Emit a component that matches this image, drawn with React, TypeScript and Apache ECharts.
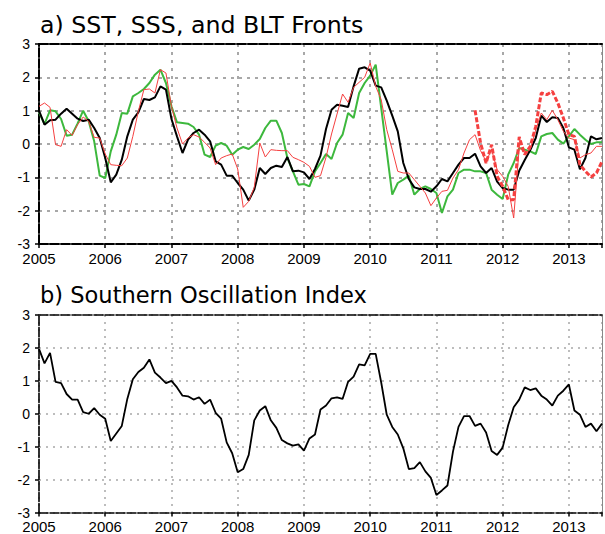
import React, { useEffect, useRef } from "react";
import * as echarts from "echarts";

// Monthly series, Jan 2005 .. Jul 2013 (103 months)
const START_YEAR = 2005;
const END_YEAR = 2013.5;

// black: SST front index
const sstFront = [
  1.0, 0.58, 0.71, 0.73, 0.91, 1.06, 0.91, 0.76, 0.69, 0.73, 0.48, 0.18,
  -0.42, -1.15, -0.92, -0.47, 0.23, 0.73, 0.95, 1.35, 1.32, 1.4, 1.73, 1.63,
  0.75, 0.23, -0.27, 0.13, 0.33, 0.43, 0.28, 0.08, -0.52, -0.62, -0.95, -0.95,
  -1.17, -1.37, -1.7, -1.37, -0.72, -0.9, -0.72, -0.65, -0.69, -0.39, -0.82, -0.8,
  -0.85, -1.05, -0.75, -0.35, 0.45, 1.03, 1.18, 1.15, 1.11, 1.73, 2.26, 2.3,
  2.2, 1.75, 1.7, 1.3, 0.85, 0.38, -0.57, -1.05, -1.3, -1.35, -1.35, -1.43,
  -1.27, -1.05, -1.12, -0.87, -0.62, -0.42, -0.42, -0.29, -0.67, -0.87, -0.72, -1.13,
  -1.32, -1.37, -1.37, -0.8, -0.48, -0.18, 0.18, 0.85, 0.66, 0.8, 0.78, 0.48,
  -0.1, -0.17, -0.76, -0.42, 0.23, 0.14, 0.18,
];

// thin red: SSS front index
const sssFront = [
  1.13, 1.23, 1.1, -0.02, -0.07, 0.43, 0.26, 0.58, 0.81, 0.68, 0.2, 0.18,
  -0.3, -0.62, -0.64, -0.65, -0.42, 0.23, 0.98, 1.63, 1.65, 1.53, 2.23, 2.13,
  1.13, 0.48, 0.0, 0.18, 0.28, 0.21, 0.05, -0.12, -0.62, -0.42, -0.35, -0.3,
  -0.75, -1.9, -1.72, -1.3, 0.03, -0.39, -0.17, -0.19, -0.2, -0.2, -0.4, -0.47,
  -0.55, -0.67, -1.0, -0.95, -0.4, 0.3, 0.9, 1.5, 1.25, 1.7, 1.85, 2.0,
  2.43, 1.73, 1.33, 0.43, -0.17, -0.82, -0.87, -0.87, -1.07, -1.27, -1.47, -1.85,
  -1.62, -1.42, -1.39, -1.02, -0.77, -0.27, 0.13, 0.28, -0.2, -0.52, -0.17, -0.77,
  -0.97, -1.27, -2.22, -0.1, -0.27, -0.17, 0.43, 0.93, 0.73, 1.01, 0.73, 0.38,
  0.18, 0.13, -0.42, -0.32, -0.27, -0.07, -0.07,
];

// green: BLT front index
const bltFront = [
  0.95, 0.6, 1.01, 0.98, 0.75, 0.25, 0.28, 0.62, 1.0, 0.68, 0.08, -0.95,
  -1.02, -0.22, 0.28, 0.93, 0.91, 1.43, 1.53, 1.65, 1.83, 2.08, 2.23, 1.83,
  1.13, 0.65, 0.63, 0.61, 0.51, 0.28, -0.32, -0.39, -0.05, 0.03, -0.05, -0.32,
  -0.17, -0.09, -0.15, -0.02, 0.15, 0.48, 0.7, 0.7, 0.33, -0.42, -0.82, -1.22,
  -1.2, -1.27, -0.82, -0.57, -0.3, -0.45, 0.03, 0.28, 0.93, 0.78, 1.53, 1.83,
  2.05, 2.38, 1.08, -0.22, -1.52, -1.17, -1.07, -0.95, -1.52, -1.35, -1.27, -1.35,
  -1.47, -2.07, -1.57, -1.37, -0.87, -0.77, -0.77, -0.82, -0.82, -0.87, -1.37, -1.52,
  -1.65, -0.92, -0.57, -0.12, -0.17, -0.22, -0.3, 0.23, 0.3, 0.33, 0.13, 0.01,
  0.23, 0.45, 0.28, 0.13, 0.0, 0.05, 0.05,
];

// thick dashed red, starting Aug 2011 (month index 79)
const dashedStartMonth = 79;
const dashedFront = [
  1.01, 0.03, -0.57, -0.02, -0.97, -1.27, -1.67, -1.67, 0.21, -0.32, -0.07, 0.53,
  1.53, 1.48, 1.58, 1.23, 0.78, 0.28, 0.23, -0.62, -0.82, -0.99, -0.87, -0.52,
];

// Southern Oscillation Index
const soi = [
  1.97, 1.53, 1.85, 0.97, 0.93, 0.6, 0.43, 0.43, 0.05, 0.0, 0.17, -0.03,
  -0.15, -0.83, -0.6, -0.37, 0.45, 1.05, 1.27, 1.4, 1.65, 1.25, 1.1, 0.93,
  1.0, 0.8, 0.55, 0.53, 0.43, 0.5, 0.3, 0.43, 0.03, -0.15, -0.87, -1.2,
  -1.78, -1.68, -1.25, -0.2, 0.1, 0.23, -0.2, -0.43, -0.8, -0.9, -0.97, -0.93,
  -1.12, -0.75, -0.63, 0.13, 0.25, 0.47, 0.5, 0.45, 0.97, 1.13, 1.5, 1.47,
  1.82, 1.82, 0.95, -0.03, -0.4, -0.63, -1.05, -1.68, -1.65, -1.47, -1.75, -1.95,
  -2.47, -2.33, -2.18, -1.15, -0.4, -0.07, -0.07, -0.37, -0.3, -0.57, -1.13, -1.25,
  -1.03, -0.35, 0.2, 0.43, 0.8, 0.72, 0.77, 0.55, 0.43, 0.25, 0.55, 0.7,
  0.89, 0.1, -0.03, -0.4, -0.3, -0.53, -0.3,
];

const titleA = "a) SST, SSS, and BLT Fronts";
const titleB = "b) Southern Oscillation Index";

const toPairs = (values: number[], startMonth = 0) =>
  values.map((v, i) => [START_YEAR + (startMonth + i) / 12, v]);

const FONT = "Liberation Sans";

function axesFor(gridIndex: number, frameW: number, gridW: number, dash: number[]) {
  const split = {
    show: true,
    lineStyle: { color: "#a8a8a8", width: gridW, type: dash },
  };
  const frame = { color: "#000", width: frameW, type: [9, 2] };
  const xAxes = [
    {
      type: "value",
      gridIndex,
      min: START_YEAR,
      max: END_YEAR,
      interval: 1,
      position: "bottom",
      axisLine: { show: true, onZero: false, lineStyle: frame },
      axisTick: { show: true, inside: false, length: 4, lineStyle: { color: "#000", width: 1.5 } },
      axisLabel: {
        formatter: (v: number) => (Number.isInteger(v) ? String(v) : ""),
        color: "#000",
        fontFamily: FONT,
        fontSize: 15,
        lineHeight: 12,
        margin: 8,
      },
      splitLine: split,
    },
    {
      type: "value",
      gridIndex,
      min: START_YEAR,
      max: END_YEAR,
      position: "top",
      axisLine: { show: true, onZero: false, lineStyle: frame },
      axisTick: { show: false },
      axisLabel: { show: false },
      splitLine: { show: false },
    },
  ];
  const yAxes = [
    {
      type: "value",
      gridIndex,
      min: -3,
      max: 3,
      interval: 1,
      position: "left",
      axisLine: { show: true, onZero: false, lineStyle: frame },
      axisTick: { show: true, inside: false, length: 4, lineStyle: { color: "#000", width: 1.5 } },
      axisLabel: { color: "#000", fontFamily: FONT, fontSize: 14, lineHeight: 12, margin: 9 },
      splitLine: split,
    },
    {
      type: "value",
      gridIndex,
      min: -3,
      max: 3,
      position: "right",
      axisLine: { show: true, onZero: false, lineStyle: { color: "#888", width: 1 } },
      axisTick: { show: false },
      axisLabel: { show: false },
      splitLine: { show: false },
    },
  ];
  return { xAxes, yAxes };
}

export default function App() {
  const ref = useRef<HTMLDivElement>(null);

  useEffect(() => {
    if (!ref.current) return;
    const chart = echarts.init(ref.current, undefined, { renderer: "svg" });
    const a = axesFor(0, 2, 2, [3, 5]);
    const b = axesFor(1, 1.6, 1.5, [2, 5]);
    const line = (xi: number, yi: number, data: number[][], color: string, width: number, type: any = "solid", z = 2) => ({
      type: "line",
      xAxisIndex: xi,
      yAxisIndex: yi,
      data,
      symbol: "none",
      showSymbol: false,
      silent: true,
      z,
      lineStyle: { color, width, type },
      emphasis: { disabled: true },
    });
    chart.setOption({
      animation: false,
      backgroundColor: "#fff",
      grid: [
        { left: 39, top: 44, width: 565, height: 200, containLabel: false },
        { left: 39, top: 315, width: 565, height: 200, containLabel: false },
      ],
      xAxis: [...a.xAxes, ...b.xAxes],
      yAxis: [...a.yAxes, ...b.yAxes],
      graphic: [
        {
          type: "text",
          x: 40,
          y: 25.5,
          scaleX: 1.03,
          style: { text: titleA, font: `23px "DejaVu Sans"`, fill: "#000", verticalAlign: "middle" },
        },
        {
          type: "text",
          x: 40,
          y: 295,
          scaleX: 0.98,
          style: { text: titleB, font: `23px "DejaVu Sans"`, fill: "#000", verticalAlign: "middle" },
        },
      ],
      series: [
        line(0, 0, toPairs(bltFront), "#3db83d", 2, "solid", 2),
        line(0, 0, toPairs(sstFront), "#000", 2, "solid", 3),
        line(0, 0, toPairs(sssFront), "#f54040", 1, "solid", 4),
        line(0, 0, toPairs(dashedFront, dashedStartMonth), "#f54040", 3, [5, 2], 5),
        line(2, 2, toPairs(soi), "#000", 1.8, "solid", 3),
      ],
    });
    return () => chart.dispose();
  }, []);

  return (
    <div
      ref={ref}
      style={{ position: "absolute", left: 0, top: 0, width: 605, height: 534, background: "#fff" }}
    />
  );
}
